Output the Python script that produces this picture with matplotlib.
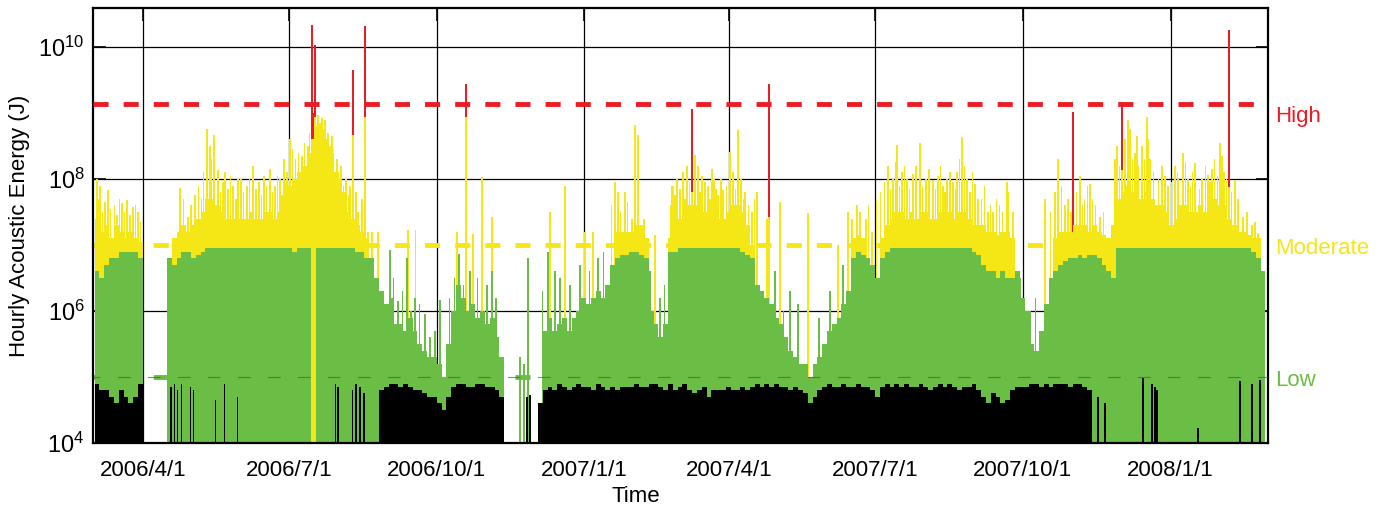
"""
Hourly acoustic energy with the low / moderate / high levels.
"""
import datetime as dt
import numpy as np
import matplotlib as mpl
mpl.use('Agg')
mpl.rcParams['mathtext.default'] = 'regular'
import matplotlib.pyplot as plt
import matplotlib.dates as mdates

plt.rcParams['font.family'] = ['Liberation Sans', 'DejaVu Sans']

nan = np.nan

# Energy in 3-day blocks starting 2006/3/2, log10(J):
# the bulk level of the block, the top of the green (<1e7 J) hours and the
# top of the black (<1e5 J) hours.  nan = none in that block.
peak_log = [
    7.4, 7.2, 7.3, 7.1, 7.3, 7.2, 7.1, 7.2, 7.1, 7.05,  # 2006/3
    nan, nan, nan, nan, nan, 6.8, 7.1, 7.2, 7.3, 7.2,   # 2006/4
    7.3, 7.4, 7.5, 7.7, 7.7, 7.6, 7.5, 7.4, 7.4, 7.4,   # 2006/5
    7.4, 7.4, 7.5, 7.4, 7.4, 7.5, 7.5, 7.4, 7.5, 7.6,   # 2006/6
    7.9, 8.0, 8.1, 8.2, 8.4, 8.6, 8.5, 8.3, 8.2, 8.1,   # 2006/7
    8.0, 7.8, 7.5, 7.4, 7.3, 7.2, 7.1, 6.8, 6.5, 6.3,   # 2006/8
    6.1, 6.2, 5.8, 5.8, 5.7, 5.9, 5.7, 5.5, 5.4, 5.3,   # 2006/9
    5.3, 5.2, 5.0, 5.5, 6.0, 6.4, 6.2, 6.0, 6.1, 5.9,   # 2006/10
    6.0, 5.8, 5.9, 5.6, 5.3, nan, nan, nan, nan, nan,   # 2006/11
    nan, nan, 4.6, 5.7, 5.9, 5.7, 5.8, 5.9, 5.7, 5.9,   # 2006/12
    6.0, 6.2, 6.1, 6.2, 6.3, 6.2, 6.4, 6.7, 7.2, 7.2,   # 2007/1
    7.2, 7.2, 7.3, 7.3, 7.1, 6.0, 5.8, 5.6, 5.8, 7.1,   # 2007/2
    7.4, 7.4, 7.5, 7.6, 7.6, 7.7, 7.5, 7.5, 7.6, 7.4,   # 2007/3
    7.4, 7.5, 7.6, 7.6, 7.5, 7.3, 7.0, 6.4, 6.3, 6.2,   # 2007/4
    6.1, 5.9, 5.8, 5.6, 5.4, 5.3, 5.2, 5.2, 5.0, 5.2,   # 2007/5
    5.3, 5.5, 5.7, 5.8, 5.9, 6.1, 6.3, 7.1, 7.15, 7.1,  # 2007/6
    6.8, 6.7, 6.5, 7.1, 7.3, 7.4, 7.5, 7.5, 7.4, 7.5,   # 2007/7
    7.4, 7.5, 7.5, 7.4, 7.4, 7.5, 7.4, 7.5, 7.4, 7.5,   # 2007/8
    7.5, 7.4, 7.3, 7.3, 7.3, 7.2, 7.2, 7.15, 7.2, 7.2,  # 2007/9
    7.1, 6.6, 6.2, 6.0, 5.5, 5.4, 5.7, 6.1, 6.5, 7.1,   # 2007/10
    7.2, 7.2, 7.2, 7.3, 7.3, 7.3, 7.2, 7.3, 7.2, 7.15,  # 2007/11
    7.1, 7.3, 7.7, 7.8, 7.9, 7.8, 7.7, 7.7, 7.8, 7.7,   # 2007/12
    7.6, 7.6, 7.5, 7.3, 7.4, 7.6, 7.6, 7.5, 7.5, 7.6,   # 2008/1
    7.5, 7.6, 7.7, 7.6, 7.6, 7.4, 7.3, 7.2, 7.2, 7.15,  # 2008/2
    7.1, 7.1, 6.6,
]
green_log = [
    6.6, 6.5, 6.7, 6.8, 6.8, 6.9, 6.9, 6.9, 6.9, 6.8,
    nan, nan, nan, nan, nan, nan, 6.7, 6.8, 6.9, 6.9,
    6.8, 6.85, 6.9, 6.95, 6.95, 6.95, 6.95, 6.95, 6.95, 6.95,
    6.95, 6.95, 6.95, 6.95, 6.95, 6.95, 6.95, 6.95, 6.95, 6.95,
    6.95, 6.9, 6.95, 6.95, 6.95, nan, 6.95, 6.95, 6.95, 6.95,
    6.95, 6.95, 6.95, 6.95, 6.9, 6.9, 6.8, nan, nan, nan,
    nan, nan, nan, nan, nan, nan, nan, nan, nan, nan,
    nan, nan, nan, nan, nan, nan, nan, nan, nan, nan,
    nan, nan, nan, nan, nan, nan, nan, nan, nan, nan,
    nan, nan, nan, nan, nan, nan, nan, nan, nan, nan,
    nan, nan, nan, nan, nan, nan, nan, nan, 6.8, 6.85,
    6.85, 6.9, 6.9, 6.85, 6.8, nan, nan, nan, nan, 6.9,
    6.9, 6.95, 6.95, 6.95, 6.95, 6.95, 6.95, 6.95, 6.95, 6.95,
    6.95, 6.95, 6.95, 6.95, 6.9, 6.85, 6.8, nan, nan, nan,
    nan, nan, nan, nan, nan, nan, nan, nan, nan, nan,
    nan, nan, nan, nan, nan, nan, nan, 6.8, 6.9, 6.85,
    nan, nan, nan, 6.8, 6.9, 6.95, 6.95, 6.95, 6.95, 6.95,
    6.95, 6.95, 6.95, 6.95, 6.95, 6.95, 6.95, 6.95, 6.95, 6.95,
    6.95, 6.95, 6.9, 6.85, 6.7, 6.6, 6.6, 6.5, 6.6, 6.5,
    6.5, nan, nan, nan, nan, nan, nan, nan, nan, 6.6,
    6.7, 6.75, 6.8, 6.8, 6.85, 6.8, 6.85, 6.85, 6.8, 6.7,
    6.6, 6.5, 6.95, 6.95, 6.95, 6.95, 6.95, 6.95, 6.95, 6.95,
    6.95, 6.95, 6.95, 6.95, 6.95, 6.95, 6.95, 6.95, 6.95, 6.95,
    6.95, 6.95, 6.95, 6.95, 6.95, 6.95, 6.95, 6.95, 6.95, 6.95,
    6.9, 6.8, nan,
]
black_log = [
    4.9, 4.8, 4.8, 4.7, 4.6, 4.8, 4.7, 4.6, 4.7, 4.9,
    nan, nan, nan, nan, nan, nan, nan, nan, nan, nan,
    nan, nan, nan, nan, nan, nan, nan, nan, nan, nan,
    nan, nan, nan, nan, nan, nan, nan, nan, nan, nan,
    nan, nan, nan, nan, nan, nan, nan, nan, nan, nan,
    nan, nan, nan, nan, nan, nan, nan, nan, nan, 4.8,
    4.85, 4.9, 4.9, 4.85, 4.9, 4.85, 4.8, 4.8, 4.75, 4.7,
    4.7, 4.6, 4.5, 4.7, 4.85, 4.9, 4.9, 4.85, 4.85, 4.9,
    4.9, 4.85, 4.85, 4.8, 4.7, nan, nan, nan, nan, nan,
    nan, nan, nan, 4.8, 4.85, 4.8, 4.9, 4.85, 4.8, 4.85,
    4.9, 4.85, 4.85, 4.8, 4.9, 4.85, 4.8, 4.85, 4.8, 4.85,
    4.85, 4.85, 4.9, 4.85, 4.85, 4.9, 4.9, 4.85, 4.8, 4.9,
    4.8, 4.85, 4.9, 4.8, 4.75, 4.8, 4.85, 4.7, 4.8, 4.8,
    4.8, 4.85, 4.8, 4.8, 4.85, 4.8, 4.85, 4.9, 4.85, 4.9,
    4.85, 4.9, 4.85, 4.85, 4.8, 4.85, 4.8, 4.75, 4.6, 4.7,
    4.8, 4.85, 4.9, 4.85, 4.85, 4.9, 4.85, 4.85, 4.9, 4.85,
    4.85, 4.8, 4.7, 4.85, 4.9, 4.85, 4.9, 4.85, 4.9, 4.85,
    4.85, 4.9, 4.85, 4.8, 4.85, 4.9, 4.85, 4.9, 4.85, 4.8,
    4.85, 4.85, 4.9, 4.8, 4.7, 4.6, 4.75, 4.7, 4.6, 4.65,
    4.8, 4.85, 4.85, 4.85, 4.9, 4.9, 4.85, 4.9, 4.85, 4.9,
    4.9, 4.9, 4.85, 4.9, 4.9, 4.85, 4.8, nan, nan, nan,
    nan, nan, nan, nan, nan, nan, nan, nan, nan, nan,
    nan, nan, nan, nan, nan, nan, nan, nan, nan, nan,
    nan, nan, nan, nan, nan, nan, nan, nan, nan, nan,
    nan, nan, nan,
]

# Single hours that stand out of the blocks: days after 2006/3/1, log10(J)
spike_day = [
    # 2006/3
    2.5, 4.4, 9.3, 13.5, 18.1, 21.2, 24.9, 28.0,
    3.5, 6.0, 7.5, 11.0, 15.0, 16.5, 19.5, 23.0, 26.5, 29.5,
    # 2006/4 - 2006/6
    54.2, 59.2, 48.5, 50.7, 52.6, 55.1, 60.6, 62.5,
    71.0, 72.9, 75.3, 77.8, 82.2, 87.2, 90.3, 76.4, 82.0, 90.0,
    92.2, 95.9, 99.6, 103.4, 106.5, 110.2, 113.3, 116.4, 118.9, 120.8,
    56.5, 61.0, 63.5, 65.5, 67.5, 69.0, 74.0, 79.5, 81.0, 84.0,
    85.5, 89.0, 93.5, 97.5, 101.5, 105.0, 108.0, 111.8, 115.0, 117.6,
    119.8,
    # 2006/7 - 2006/8
    122.7, 126.0, 130.1, 133.9, 136.4, 136.4, 138.2, 138.2, 140.1, 142.6,
    144.5, 146.3, 148.8,
    124.0, 128.0, 131.5, 135.0, 137.3, 139.2, 141.4, 143.5, 145.4, 147.5,
    149.8,
    151.9, 154.4, 157.5, 160.0, 161.9, 161.9, 163.8, 167.5, 169.4, 169.4,
    171.2, 173.7, 177.5, 151.0, 152.5, 161.5, 163.8, 166.3, 168.8,
    153.0, 155.8, 159.0, 165.0, 168.0,
    # 2006/9 - 2006/12
    184.9, 189.9, 195.5, 200.5, 206.7, 209.8, 196.1, 200.9, 187.0, 192.5,
    198.0, 203.5,
    212.9, 216.1, 227.9, 234.7, 222.0, 225.0, 230.5, 226.6, 232.3, 232.3,
    236.6,
    242.2, 248.4, 248.4, 245.3, 239.5, 251.0, 265.9, 268.4, 270.9, 254.7,
    270.2, 272.1,
    283.3, 284.6, 293.9, 287.7, 290.8, 280.0, 297.0,
    # 2007/1 - 2007/2
    306.4, 311.3, 325.0, 326.9, 303.2, 314.4, 309.0, 318.0,
    331.3, 335.6, 337.5, 339.4, 349.9, 360.5, 346.8, 353.1, 356.0,
    323.0, 328.5, 333.0, 343.0,
    # 2007/3 - 2007/4
    361.1, 363.6, 367.4, 369.9, 373.0, 373.0, 374.8, 376.7, 379.2, 382.9,
    385.4, 387.9,
    359.5, 362.4, 365.5, 368.6, 371.5, 378.0, 381.0, 384.2, 386.6, 389.2,
    391.0, 394.5, 398.5, 400.2, 403.5, 405.0, 408.2, 412.0,
    392.3, 396.6, 401.6, 406.0, 410.3, 413.4, 419.7,
    # 2007/5 - 2007/6
    420.9, 420.9, 427.8, 424.7, 434.0, 439.0, 445.2, 430.0,
    458.9, 467.0, 452.0, 463.9, 470.1, 472.6, 475.7, 477.6,
    # 2007/7 - 2007/9
    481.3, 485.1, 495.0, 498.1, 500.6, 503.7, 506.8,
    510.6, 514.9, 518.7, 523.0, 526.2, 529.3, 531.8, 535.5, 538.0,
    541.1, 544.2, 549.2, 553.0, 557.3, 560.4, 564.5, 569.1,
    483.0, 488.0, 490.5, 493.0, 496.5, 499.5, 502.0, 505.3, 508.5, 512.5,
    516.5, 520.5, 524.6, 527.8, 530.5, 533.6, 537.0, 539.5, 542.6, 546.0,
    547.7, 551.0, 555.0, 559.0, 562.5, 566.5,
    # 2007/10 - 2007/11
    569.7, 572.8, 592.8, 599.0, 577.2, 583.4, 587.0,
    600.9, 605.2, 610.2, 614.6, 620.8, 627.0, 617.5, 624.0, 625.8, 630.1,
    596.0, 603.0, 607.0, 609.0, 612.5, 616.0, 619.0, 622.5, 629.0,
    # 2007/12 - 2008/2
    636.4, 640.7, 640.7, 644.5, 645.7, 648.8, 653.2, 656.3, 658.2, 651.0,
    653.8, 659.4, 661.3, 662.5,
    665.6, 669.4, 673.7, 678.7, 681.8, 686.2, 676.0, 688.1,
    694.3, 696.8, 701.7, 704.2, 707.3, 707.3, 711.1, 716.1, 721.7, 725.4,
    714.2, 721.7, 726.6,
    637.5, 639.0, 642.5, 647.2, 650.0, 654.7, 657.2, 660.4, 663.4, 667.5,
    671.5, 675.2, 680.2, 683.5, 684.8, 688.9, 690.5, 692.5, 695.5, 698.5,
    700.2, 703.0, 705.6, 709.0, 713.0, 718.5, 723.5,
]
spike_log = [
    # 2006/3
    8.0, 7.9, 7.83, 7.6, 7.63, 7.68, 7.58, 7.5,
    7.7, 7.5, 7.65, 7.55, 7.45, 7.7, 7.5, 7.45, 7.6, 7.35,
    # 2006/4 - 2006/6
    7.86, 7.43, 4.85, 4.9, 4.8, 4.9, 4.85, 4.8,
    8.75, 8.5, 8.67, 8.14, 8.1, 7.9, 8.0, 4.65, 4.9, 4.7,
    8.0, 7.9, 8.2, 7.95, 8.05, 8.15, 7.9, 8.0, 8.3, 8.1,
    7.7, 7.6, 7.75, 7.9, 7.7, 8.1, 8.3, 7.8, 7.95, 7.85,
    8.05, 7.7, 7.8, 8.0, 7.85, 7.75, 7.9, 7.8, 8.05, 7.75,
    7.95,
    # 2006/7 - 2006/8
    8.6, 8.3, 8.35, 8.5, 10.33, 8.55, 10.03, 8.94, 8.97, 8.92,
    8.9, 8.7, 8.65,
    8.45, 8.4, 8.55, 8.7, 9.0, 8.8, 8.85, 8.75, 8.6, 8.5,
    8.4,
    8.3, 8.2, 8.0, 7.9, 9.65, 8.67, 7.8, 7.7, 10.31, 8.94,
    7.2, 7.2, 7.2, 4.9, 4.85, 4.8, 4.9, 4.85, 4.75,
    8.1, 7.9, 7.75, 7.5, 7.4,
    # 2006/9 - 2006/12
    6.92, 6.15, 6.8, 6.2, 5.96, 5.6, 7.23, 7.23, 6.5, 6.3,
    6.0, 6.1,
    5.7, 6.17, 6.87, 6.6, 6.2, 6.5, 6.4, 7.2, 9.44, 8.94,
    7.17,
    8.03, 7.43, 6.6, 6.4, 6.5, 6.2, 5.3, 5.2, 6.8, 4.2,
    4.7, 4.73,
    6.9, 7.5, 7.9, 6.6, 6.5, 6.3, 6.4,
    # 2007/1 - 2007/2
    7.2, 7.2, 7.96, 7.8, 6.7, 6.8, 6.6, 6.9,
    7.8, 7.4, 8.82, 8.67, 7.15, 7.9, 6.6, 6.2, 6.4,
    7.6, 7.5, 7.65, 7.4,
    # 2007/3 - 2007/4
    7.9, 8.0, 8.1, 8.2, 9.06, 7.8, 8.36, 8.2, 8.05, 7.9,
    8.15, 7.85,
    7.6, 7.75, 7.85, 7.7, 7.95, 7.8, 7.95, 7.7, 8.0, 7.75,
    8.0, 7.9, 8.1, 7.85, 8.0, 7.7, 7.6, 7.7,
    7.83, 8.41, 8.74, 7.8, 7.5, 7.8, 7.4,
    # 2007/5 - 2007/6
    9.44, 7.43, 7.65, 6.6, 6.3, 6.1, 7.48, 6.0,
    6.3, 6.7, 5.9, 7.0, 7.5, 7.4, 7.6, 7.5,
    # 2007/7 - 2007/9
    7.4, 7.2, 8.2, 8.0, 8.52, 8.1, 8.0,
    8.07, 8.54, 8.0, 7.98, 8.04, 7.9, 8.0, 7.95, 8.1,
    8.64, 8.0, 7.93, 7.7, 7.5, 7.5, 7.6, 7.96,
    7.6, 7.7, 7.8, 7.95, 7.85, 8.25, 7.9, 8.2, 7.85, 8.2,
    7.9, 8.15, 7.85, 8.2, 7.8, 8.1, 7.85, 8.3, 8.2, 7.8,
    8.1, 7.7, 7.9, 7.6, 7.7, 7.5,
    # 2007/10 - 2007/11
    7.8, 7.5, 7.7, 7.8, 6.5, 6.0, 6.2,
    8.3, 7.6, 9.02, 8.04, 7.93, 7.43, 7.7, 7.6, 4.7, 4.6,
    7.5, 7.9, 7.7, 7.5, 7.8, 7.6, 7.9, 7.7, 7.5,
    # 2007/12 - 2008/2
    8.3, 9.17, 8.13, 8.9, 8.75, 8.4, 8.5, 8.94, 8.3, 8.2,
    4.98, 4.9, 4.85, 4.8,
    8.19, 7.9, 8.19, 8.39, 8.0, 8.24, 8.0, 4.22,
    8.06, 8.15, 8.54, 8.1, 10.26, 7.88, 7.98, 7.43, 7.3, 7.18,
    4.94, 4.9, 4.95,
    8.5, 8.2, 8.6, 8.3, 8.65, 8.3, 8.6, 8.1, 8.0, 8.05,
    7.95, 8.1, 8.25, 7.9, 8.1, 7.85, 8.0, 8.2, 7.95, 8.3,
    8.05, 8.35, 8.0, 7.8, 7.7, 7.5, 7.35,
]

levels = [1.37e9, 1e7, 1e5]
level_names = ['High', 'Moderate', 'Low']
tick_labels = ['2006/4/1', '2006/7/1', '2006/10/1', '2007/1/1',
               '2007/4/1', '2007/7/1', '2007/10/1', '2008/1/1']

RED = '#ec1c24'
YELLOW = '#f5e616'
GREEN = '#6abd45'
colours = [RED, YELLOW, GREEN]


def level_colour(v):
    if v >= 9:
        return RED
    if v >= 7:
        return YELLOW
    if v >= 5:
        return GREEN
    return 'black'


base = mdates.date2num(dt.datetime(2006, 3, 1))
block_left = base + 1 + 3 * np.arange(len(peak_log))

lefts, widths, values = [], [], []
for arr in (peak_log, green_log, black_log):
    for left, v in zip(block_left, arr):
        if not np.isnan(v):
            lefts.append(left)
            widths.append(3.0)
            values.append(v)
for d, v in zip(spike_day, spike_log):
    lefts.append(base + d - 0.4)
    widths.append(0.8)
    values.append(v)

# every hour is a line from the floor; the tallest go first so that lower
# hours show their own colour on top of them
order = np.argsort(values, kind='stable')[::-1]
lefts = np.array(lefts)[order]
widths = np.array(widths)[order]
values = np.array(values)[order]

fig = plt.figure(figsize=(13.84, 5.13), dpi=100)
ax = fig.add_axes([93 / 1384, 1 - 443 / 513, 1175 / 1384, 435 / 513])
ax.set_yscale('log')

ax.bar(lefts, 10 ** values - 1e4, widths, bottom=1e4, align='edge',
       color=[level_colour(v) for v in values], linewidth=0,
       antialiased=False, zorder=2)

# level lines
dash = (0, (3.1, 3.1))
ax.axhline(levels[0], color=RED, lw=3.5, ls=dash, zorder=3)
ax.axhline(levels[1], color=YELLOW, lw=3.5, ls=dash, zorder=1.5)
ax.axhline(levels[2], color=GREEN, lw=3.5, ls=dash, zorder=1.5)
ax.axhline(levels[2], color='#555555', lw=0.8, alpha=0.7,
           ls=(5, (11.5, 15.5)), zorder=3)

ax.set_xlim(base, base + 731.6)
ax.set_ylim(1e4, 10 ** 10.59)

ticks = [mdates.date2num(dt.datetime.strptime(t, '%Y/%m/%d'))
         for t in tick_labels]
ax.set_xticks(ticks)
ax.set_xticklabels(tick_labels, fontsize=16)
ax.set_yticks([1e4, 1e6, 1e8, 1e10])
ax.set_yticklabels(['$10^{4}$', '$10^{6}$', '$10^{8}$', '$10^{10}$'],
                   fontsize=17)
ax.yaxis.set_minor_locator(mpl.ticker.NullLocator())
ax.tick_params(direction='in', length=9, width=1.2, top=True, right=True)
ax.tick_params(axis='x', pad=12)
ax.tick_params(axis='y', pad=6)

ax.grid(True, color='black', lw=0.9)
ax.set_axisbelow(True)
for s in ax.spines.values():
    s.set_linewidth(1.6)

ax.set_ylabel('Hourly Acoustic Energy (J)', fontsize=16)
ax.yaxis.set_label_coords(-0.054, 0.5)
ax.text(0.462, -0.124, 'Time', transform=ax.transAxes, fontsize=16,
        ha='center', va='center')

label_logs = [8.94, 6.95, 4.94]
for name, c, yl in zip(level_names, colours, label_logs):
    ax.text(1.006, 10 ** yl, name, color=c, fontsize=16, va='center',
            ha='left', transform=ax.get_yaxis_transform())

fig.savefig('out.png', dpi=100)
